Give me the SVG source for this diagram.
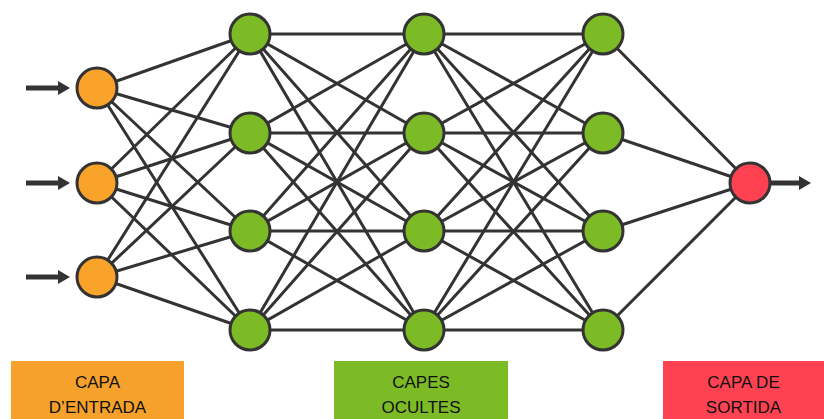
<svg xmlns="http://www.w3.org/2000/svg" width="824" height="419" viewBox="0 0 824 419">
<style>
.ln{stroke:#333;stroke-width:3;fill:none}
.ar{stroke:#333;stroke-width:5;fill:none}
.nd{stroke:#333;stroke-width:3}
.in{fill:#F9A32B}
.hd{fill:#7CBB26}
.out{fill:#FF4252}
.lbl{font-family:"Liberation Sans",Arial,sans-serif;font-size:17px;fill:#111;text-anchor:middle}
</style>
<defs>
<marker id="ah" markerWidth="3" markerHeight="3" refX="0" refY="1.4" orient="auto" markerUnits="strokeWidth">
<path d="M0,0 L2.4,1.4 L0,2.8 Z" fill="#333"/>
</marker>
</defs>
<rect width="824" height="419" fill="#fff"/>
<g id="connectors">
<g class="ln">
<path d="M97,88 L250,34 M97,88 L250,133 M97,88 L250,231 M97,88 L250,330"/>
<path d="M97,183 L250,34 M97,183 L250,133 M97,183 L250,231 M97,183 L250,330"/>
<path d="M97,277 L250,34 M97,277 L250,133 M97,277 L250,231 M97,277 L250,330"/>
<path d="M250,34 L424,34 M250,34 L424,133 M250,34 L424,231 M250,34 L424,330"/>
<path d="M250,133 L424,34 M250,133 L424,133 M250,133 L424,231 M250,133 L424,330"/>
<path d="M250,231 L424,34 M250,231 L424,133 M250,231 L424,231 M250,231 L424,330"/>
<path d="M250,330 L424,34 M250,330 L424,133 M250,330 L424,231 M250,330 L424,330"/>
<path d="M424,34 L603,34 M424,34 L603,133 M424,34 L603,231 M424,34 L603,330"/>
<path d="M424,133 L603,34 M424,133 L603,133 M424,133 L603,231 M424,133 L603,330"/>
<path d="M424,231 L603,34 M424,231 L603,133 M424,231 L603,231 M424,231 L603,330"/>
<path d="M424,330 L603,34 M424,330 L603,133 M424,330 L603,231 M424,330 L603,330"/>
<path d="M603,34 L750,183 M603,133 L750,183 M603,231 L750,183 M603,330 L750,183"/>
</g>
<g class="ar">
<path d="M26,88 L58,88" marker-end="url(#ah)"/>
<path d="M26,183 L58,183" marker-end="url(#ah)"/>
<path d="M26,277 L58,277" marker-end="url(#ah)"/>
<path d="M771,183 L799,183" marker-end="url(#ah)"/>
</g>
</g>
<g id="in1"><circle class="nd in" cx="97" cy="88" r="20"/></g>
<g id="in2"><circle class="nd in" cx="97" cy="183" r="20"/></g>
<g id="in3"><circle class="nd in" cx="97" cy="277" r="20"/></g>
<g id="h1a"><circle class="nd hd" cx="250" cy="34" r="20"/></g>
<g id="h1b"><circle class="nd hd" cx="250" cy="133" r="20"/></g>
<g id="h1c"><circle class="nd hd" cx="250" cy="231" r="20"/></g>
<g id="h1d"><circle class="nd hd" cx="250" cy="330" r="20"/></g>
<g id="h2a"><circle class="nd hd" cx="424" cy="34" r="20"/></g>
<g id="h2b"><circle class="nd hd" cx="424" cy="133" r="20"/></g>
<g id="h2c"><circle class="nd hd" cx="424" cy="231" r="20"/></g>
<g id="h2d"><circle class="nd hd" cx="424" cy="330" r="20"/></g>
<g id="h3a"><circle class="nd hd" cx="603" cy="34" r="20"/></g>
<g id="h3b"><circle class="nd hd" cx="603" cy="133" r="20"/></g>
<g id="h3c"><circle class="nd hd" cx="603" cy="231" r="20"/></g>
<g id="h3d"><circle class="nd hd" cx="603" cy="330" r="20"/></g>
<g id="out"><circle class="nd out" cx="750" cy="183" r="20"/></g>
<g id="label-input">
<rect x="11" y="361" width="173" height="58" fill="#F5A12B"/>
<text class="lbl" x="97.5" y="388">CAPA</text>
<text class="lbl" x="97.5" y="413">D’ENTRADA</text>
</g>
<g id="label-hidden">
<rect x="334" y="361" width="174" height="58" fill="#7CBB26"/>
<text class="lbl" x="421" y="388">CAPES</text>
<text class="lbl" x="421" y="413">OCULTES</text>
</g>
<g id="label-output">
<rect x="663" y="361" width="161" height="58" fill="#FF4252"/>
<text class="lbl" x="743.5" y="388">CAPA DE</text>
<text class="lbl" x="743.5" y="413">SORTIDA</text>
</g>
</svg>
